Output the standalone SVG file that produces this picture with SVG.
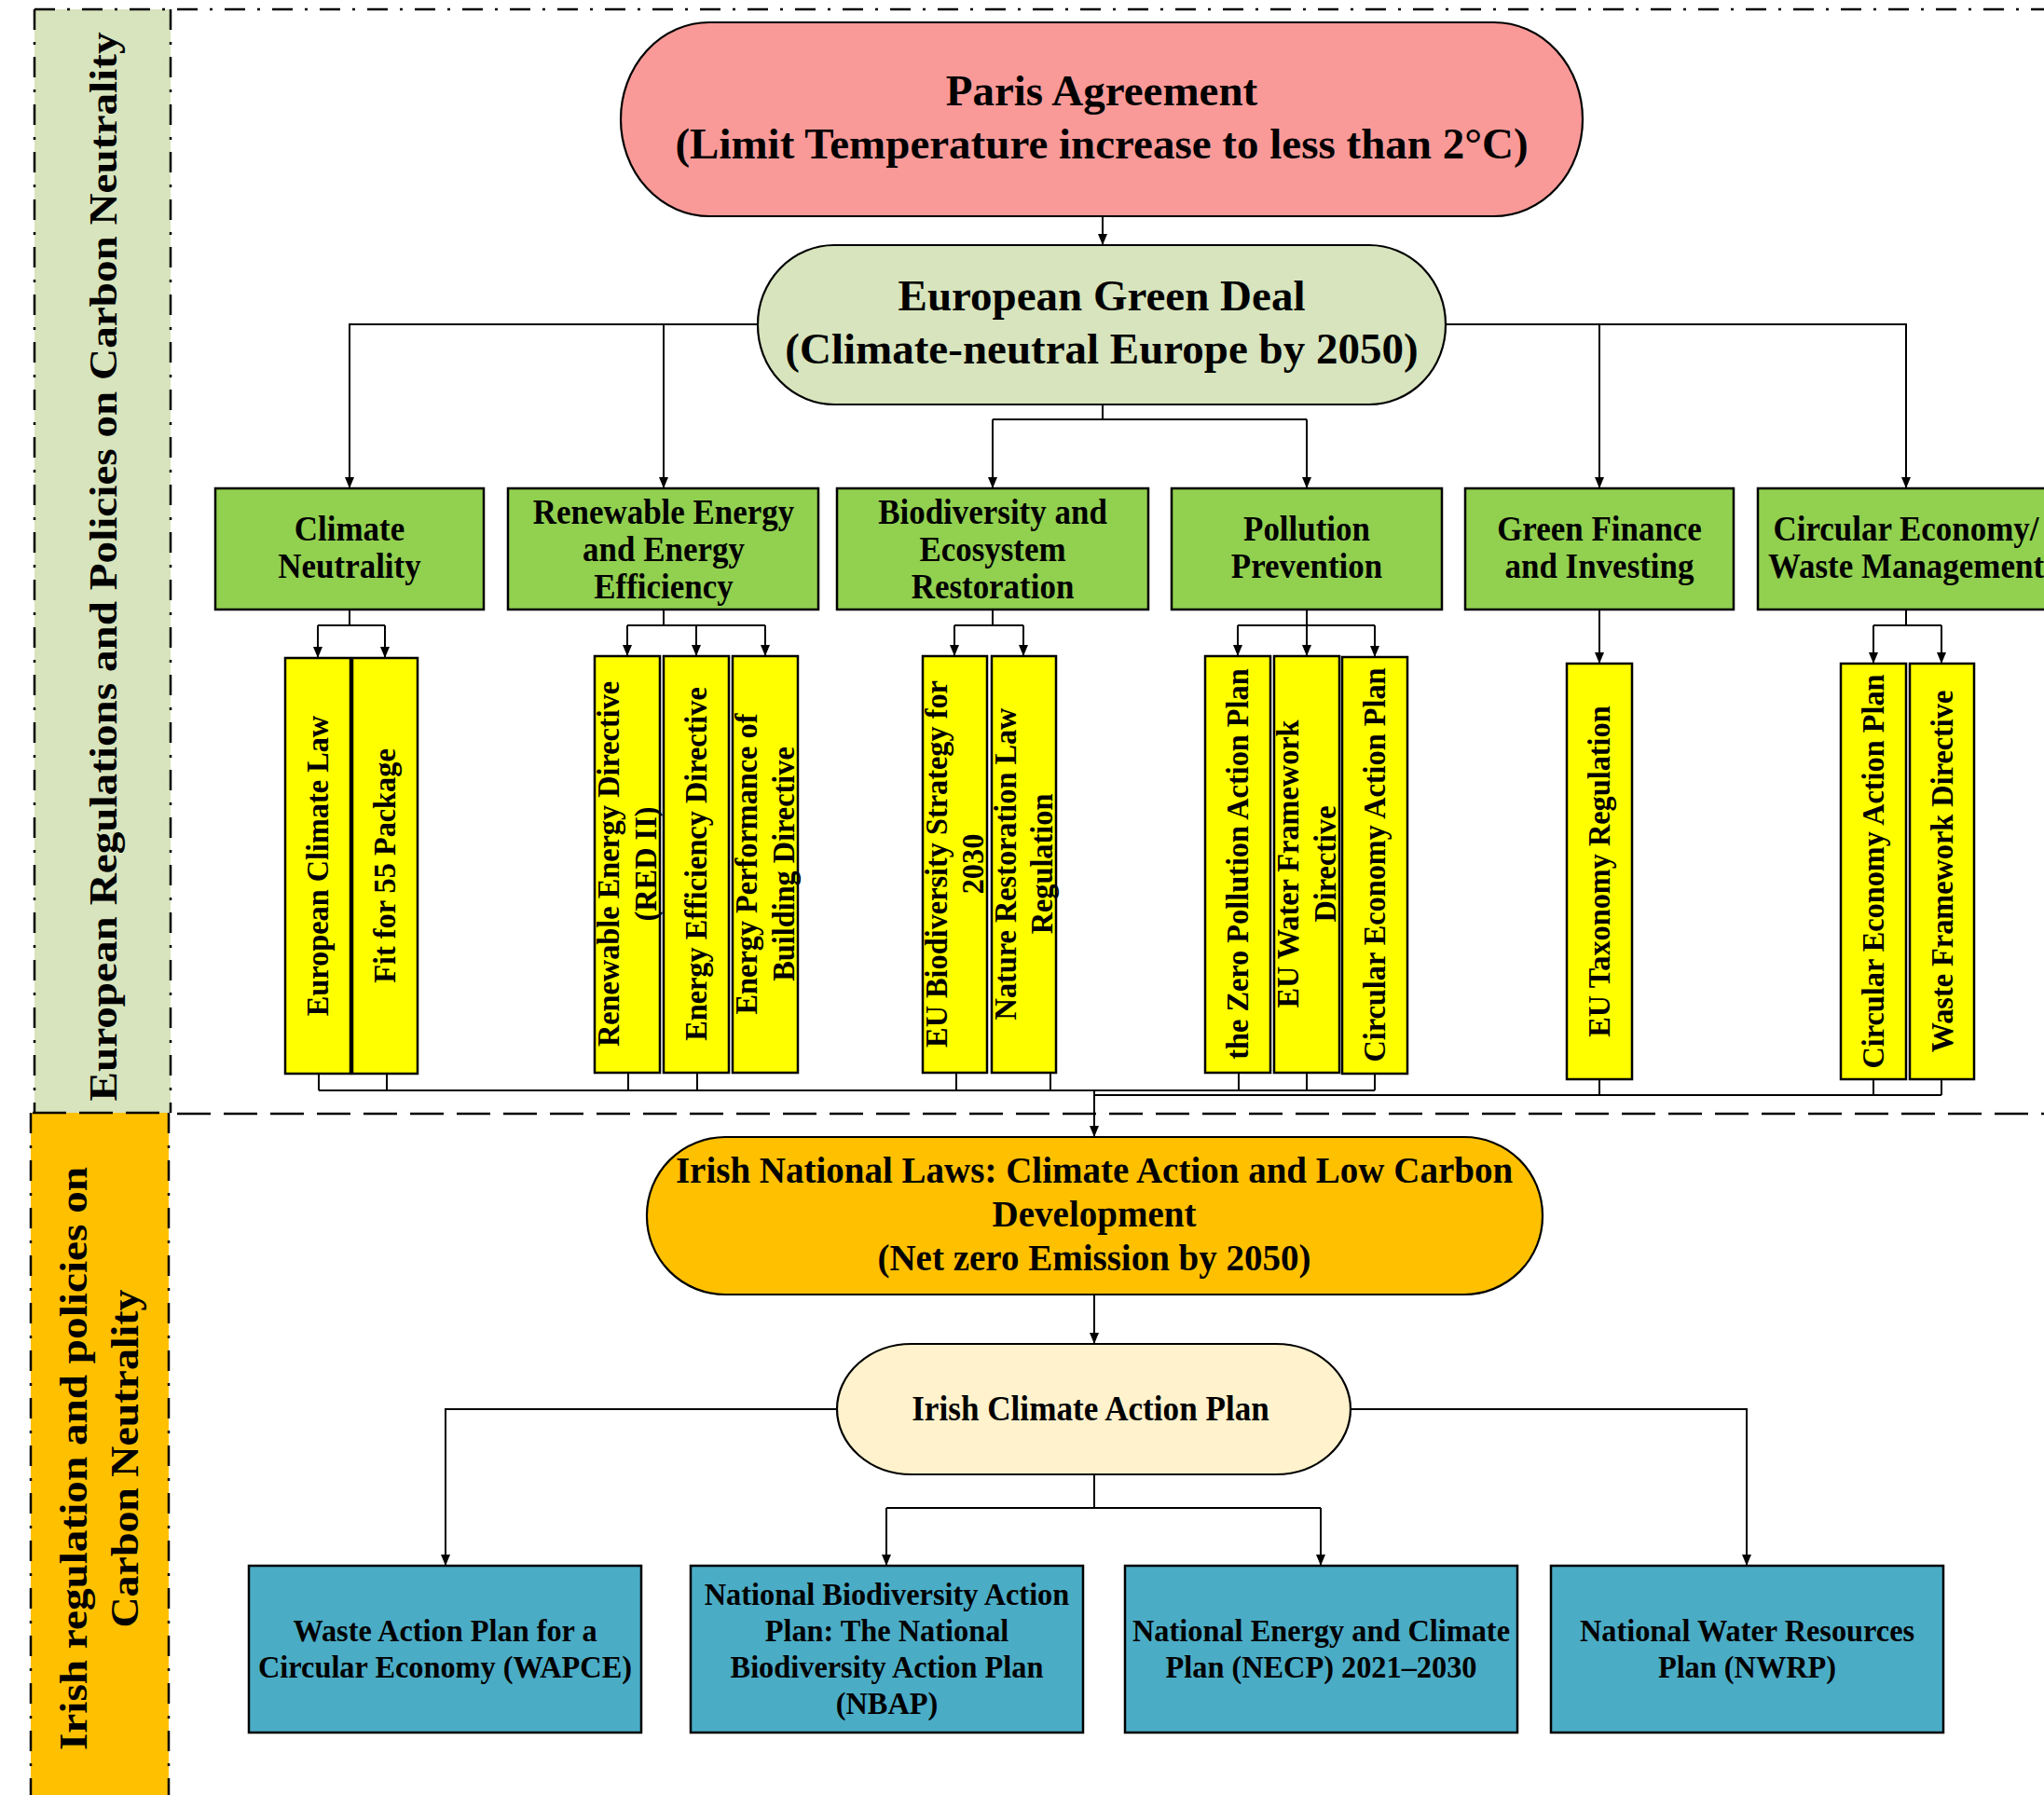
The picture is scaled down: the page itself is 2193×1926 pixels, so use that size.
<svg xmlns="http://www.w3.org/2000/svg" width="2193" height="1926" viewBox="0 0 2193 1926">
<style>
text{font-family:"Liberation Serif","Times New Roman",serif;font-weight:bold;fill:#000;text-anchor:middle}
.big{font-size:47px}
.grn{font-size:38px}
.yel{font-size:34px}
.iri{font-size:39px}
.icap{font-size:37px}
.blu{font-size:33px}
.side{font-size:42px}
.nd{stroke:#000;stroke-width:2.2}
.gbox{fill:#92D050;stroke:#000;stroke-width:2.5}
.ybox{fill:#FFFF00;stroke:#000;stroke-width:2.5}
.bbox{fill:#4BACC6;stroke:#000;stroke-width:2.5}
.dd{fill:none;stroke:#000;stroke-width:2.5;stroke-dasharray:22 13 3 13}
.dash{fill:none;stroke:#000;stroke-width:2.5;stroke-dasharray:36 14}
</style>
<defs>
<marker id="ah" markerWidth="12" markerHeight="10" refX="12" refY="5" orient="auto" markerUnits="userSpaceOnUse">
<path d="M0,0 L12,5 L0,10 z" fill="#000"/>
</marker>
</defs>
<rect x="0" y="0" width="2193" height="1926" fill="#fff"/>

<g id="sidebar-eu">
<rect x="37" y="10" width="146" height="1184" fill="#D7E4BD"/>
<g transform="translate(125 608) rotate(-90)"><text class="side" x="0" y="0" textLength="1147" lengthAdjust="spacingAndGlyphs">European Regulations and Policies on Carbon Neutrality</text></g>
</g>
<g id="sidebar-ie">
<rect x="33" y="1194" width="148" height="732" fill="#FFC000"/>
<g transform="translate(0 1565) rotate(-90)">
<text class="side" x="0" y="93" textLength="626" lengthAdjust="spacingAndGlyphs">Irish regulation and policies on</text>
<text class="side" x="0" y="148" textLength="363" lengthAdjust="spacingAndGlyphs">Carbon Neutrality</text>
</g>
</g>
<g id="borders">
<path class="dd" d="M37 10 H2193"/>
<path class="dd" d="M37 10 V1194 M183 10 V1194"/>
<path class="dd" d="M33 1194 V1926 M181 1194 V1926"/>
<path class="dash" d="M35 1194 H183"/>
<path class="dash" d="M190 1195 H2193"/>
</g>

<g id="connectors" fill="none" stroke="#000" stroke-width="2">
<path d="M1183 232 V263" marker-end="url(#ah)"/>
<path d="M813 348 H375 V524" marker-end="url(#ah)"/>
<path d="M712 348 V524" marker-end="url(#ah)"/>
<path d="M1551 348 H2045 V524" marker-end="url(#ah)"/>
<path d="M1716 348 V524" marker-end="url(#ah)"/>
<path d="M1183 434 V450 M1065 450 H1402"/>
<path d="M1065 450 V524" marker-end="url(#ah)"/>
<path d="M1402 450 V524" marker-end="url(#ah)"/>

<path d="M375 654 V671 M341 671 H413"/>
<path d="M341 671 V706" marker-end="url(#ah)"/>
<path d="M413 671 V706" marker-end="url(#ah)"/>
<path d="M712 654 V671 M673 671 H821"/>
<path d="M673 671 V704" marker-end="url(#ah)"/>
<path d="M747 671 V704" marker-end="url(#ah)"/>
<path d="M821 671 V704" marker-end="url(#ah)"/>
<path d="M1065 654 V671 M1024 671 H1098"/>
<path d="M1024 671 V704" marker-end="url(#ah)"/>
<path d="M1098 671 V704" marker-end="url(#ah)"/>
<path d="M1402 654 V671 M1328 671 H1475"/>
<path d="M1328 671 V704" marker-end="url(#ah)"/>
<path d="M1402 671 V704" marker-end="url(#ah)"/>
<path d="M1475 671 V705" marker-end="url(#ah)"/>
<path d="M1716 654 V712" marker-end="url(#ah)"/>
<path d="M2045 654 V671 M2010 671 H2083"/>
<path d="M2010 671 V712" marker-end="url(#ah)"/>
<path d="M2083 671 V712" marker-end="url(#ah)"/>

<path d="M342 1152 V1170 M415 1152 V1170 M674 1151 V1170 M748 1151 V1170 M1026 1151 V1170 M1127 1151 V1170 M342 1170 H1174"/>
<path d="M1329 1151 V1170 M1402 1151 V1170 M1475 1152 V1170 M1174 1170 H1475"/>
<path d="M1716 1158 V1175 M2010 1158 V1175 M2083 1158 V1175 M1174 1175 H2083"/>
<path d="M1174 1170 V1220" marker-end="url(#ah)"/>

<path d="M1174 1389 V1442" marker-end="url(#ah)"/>
<path d="M898 1512 H478 V1680" marker-end="url(#ah)"/>
<path d="M1449 1512 H1874 V1680" marker-end="url(#ah)"/>
<path d="M1174 1582 V1618 M951 1618 H1417"/>
<path d="M951 1618 V1680" marker-end="url(#ah)"/>
<path d="M1417 1618 V1680" marker-end="url(#ah)"/>
</g>

<g id="paris">
<rect class="nd" x="666" y="24" width="1032" height="208" rx="95" ry="104" fill="#F99A98"/>
<text class="big" x="1182" y="113">Paris Agreement</text>
<text class="big" x="1182" y="170">(Limit Temperature increase to less than 2°C)</text>
</g>
<g id="egd">
<rect class="nd" x="813" y="263" width="738" height="171" rx="82" ry="85" fill="#D7E4BD"/>
<text class="big" x="1182" y="333">European Green Deal</text>
<text class="big" x="1182" y="390">(Climate-neutral Europe by 2050)</text>
</g>

<g id="g-climate">
<rect class="gbox" x="231" y="524" width="288" height="130"/>
<g transform="translate(375 0) scale(0.92 1)"><text class="grn" x="0" y="580">Climate</text><text class="grn" x="0" y="620">Neutrality</text></g>
</g>
<g id="g-renewable">
<rect class="gbox" x="545" y="524" width="333" height="130"/>
<g transform="translate(712 0) scale(0.92 1)"><text class="grn" x="0" y="562">Renewable Energy</text><text class="grn" x="0" y="602">and Energy</text><text class="grn" x="0" y="642">Efficiency</text></g>
</g>
<g id="g-biodiversity">
<rect class="gbox" x="898" y="524" width="334" height="130"/>
<g transform="translate(1065 0) scale(0.92 1)"><text class="grn" x="0" y="562">Biodiversity and</text><text class="grn" x="0" y="602">Ecosystem</text><text class="grn" x="0" y="642">Restoration</text></g>
</g>
<g id="g-pollution">
<rect class="gbox" x="1257" y="524" width="290" height="130"/>
<g transform="translate(1402 0) scale(0.92 1)"><text class="grn" x="0" y="580">Pollution</text><text class="grn" x="0" y="620">Prevention</text></g>
</g>
<g id="g-finance">
<rect class="gbox" x="1572" y="524" width="288" height="130"/>
<g transform="translate(1716 0) scale(0.92 1)"><text class="grn" x="0" y="580">Green Finance</text><text class="grn" x="0" y="620">and Investing</text></g>
</g>
<g id="g-circular">
<rect class="gbox" x="1886" y="524" width="318" height="130"/>
<g transform="translate(2045 0) scale(0.92 1)"><text class="grn" x="0" y="580">Circular Economy/</text><text class="grn" x="0" y="620">Waste Management</text></g>
</g>

<g id="y-ecl">
<rect class="ybox" x="306" y="706" width="70" height="446"/>
<g transform="translate(341 929) rotate(-90) scale(0.95 1)"><text class="yel" x="0" y="11">European Climate Law</text></g>
</g>
<g id="y-fit55">
<rect class="ybox" x="378" y="706" width="70" height="446"/>
<g transform="translate(413 929) rotate(-90) scale(0.95 1)"><text class="yel" x="0" y="11">Fit for 55 Package</text></g>
</g>
<g id="y-red">
<rect class="ybox" x="638" y="704" width="70" height="447"/>
<g transform="translate(673 927) rotate(-90) scale(0.95 1)"><text class="yel" x="0" y="-9">Renewable Energy Directive</text><text class="yel" x="0" y="31">(RED II)</text></g>
</g>
<g id="y-eed">
<rect class="ybox" x="712" y="704" width="70" height="447"/>
<g transform="translate(747 927) rotate(-90) scale(0.95 1)"><text class="yel" x="0" y="11">Energy Efficiency Directive</text></g>
</g>
<g id="y-epbd">
<rect class="ybox" x="786" y="704" width="70" height="447"/>
<g transform="translate(821 927) rotate(-90) scale(0.95 1)"><text class="yel" x="0" y="-9">Energy Performance of</text><text class="yel" x="0" y="31">Building Directive</text></g>
</g>
<g id="y-biostrat">
<rect class="ybox" x="990" y="704" width="69" height="447"/>
<g transform="translate(1024.5 927) rotate(-90) scale(0.95 1)"><text class="yel" x="0" y="-9">EU Biodiversity Strategy for</text><text class="yel" x="0" y="31">2030</text></g>
</g>
<g id="y-nature">
<rect class="ybox" x="1064" y="704" width="69" height="447"/>
<g transform="translate(1098.5 927) rotate(-90) scale(0.95 1)"><text class="yel" x="0" y="-9">Nature Restoration Law</text><text class="yel" x="0" y="31">Regulation</text></g>
</g>
<g id="y-zero">
<rect class="ybox" x="1293" y="704" width="70" height="447"/>
<g transform="translate(1328 927) rotate(-90) scale(0.95 1)"><text class="yel" x="0" y="11">the Zero Pollution Action Plan</text></g>
</g>
<g id="y-water">
<rect class="ybox" x="1367" y="704" width="70" height="447"/>
<g transform="translate(1402 927) rotate(-90) scale(0.95 1)"><text class="yel" x="0" y="-9">EU Water Framework</text><text class="yel" x="0" y="31">Directive</text></g>
</g>
<g id="y-ceap1">
<rect class="ybox" x="1440" y="705" width="70" height="447"/>
<g transform="translate(1475 928) rotate(-90) scale(0.95 1)"><text class="yel" x="0" y="11">Circular Economy Action Plan</text></g>
</g>
<g id="y-taxonomy">
<rect class="ybox" x="1681" y="712" width="70" height="446"/>
<g transform="translate(1716 935) rotate(-90) scale(0.95 1)"><text class="yel" x="0" y="11">EU Taxonomy Regulation</text></g>
</g>
<g id="y-ceap2">
<rect class="ybox" x="1975" y="712" width="70" height="446"/>
<g transform="translate(2010 935) rotate(-90) scale(0.95 1)"><text class="yel" x="0" y="11">Circular Economy Action Plan</text></g>
</g>
<g id="y-wfd">
<rect class="ybox" x="2049" y="712" width="69" height="446"/>
<g transform="translate(2083.5 935) rotate(-90) scale(0.95 1)"><text class="yel" x="0" y="11">Waste Framework Directive</text></g>
</g>

<g id="irish-laws">
<rect class="nd" x="694" y="1220" width="961" height="169" rx="84" ry="84" fill="#FFC000"/>
<text class="iri" x="1174" y="1269">Irish National Laws: Climate Action and Low Carbon</text>
<text class="iri" x="1174" y="1316">Development</text>
<text class="iri" x="1174" y="1363">(Net zero Emission by 2050)</text>
</g>
<g id="icap">
<rect class="nd" x="898" y="1442" width="551" height="140" rx="80" ry="70" fill="#FFF2CC"/>
<g transform="translate(1170 0) scale(0.95 1)"><text class="icap" x="0" y="1524">Irish Climate Action Plan</text></g>
</g>

<g id="b-wapce">
<rect class="bbox" x="267" y="1680" width="421" height="179"/>
<g transform="translate(477.5 0) scale(0.98 1)"><text class="blu" x="0" y="1761">Waste Action Plan for a</text><text class="blu" x="0" y="1800">Circular Economy (WAPCE)</text></g>
</g>
<g id="b-nbap">
<rect class="bbox" x="741" y="1680" width="421" height="179"/>
<g transform="translate(951.5 0) scale(0.98 1)"><text class="blu" x="0" y="1722">National Biodiversity Action</text><text class="blu" x="0" y="1761">Plan: The National</text><text class="blu" x="0" y="1800">Biodiversity Action Plan</text><text class="blu" x="0" y="1839">(NBAP)</text></g>
</g>
<g id="b-necp">
<rect class="bbox" x="1207" y="1680" width="421" height="179"/>
<g transform="translate(1417.5 0) scale(0.98 1)"><text class="blu" x="0" y="1761">National Energy and Climate</text><text class="blu" x="0" y="1800">Plan (NECP) 2021–2030</text></g>
</g>
<g id="b-nwrp">
<rect class="bbox" x="1664" y="1680" width="421" height="179"/>
<g transform="translate(1874.5 0) scale(0.98 1)"><text class="blu" x="0" y="1761">National Water Resources</text><text class="blu" x="0" y="1800">Plan (NWRP)</text></g>
</g>
</svg>
